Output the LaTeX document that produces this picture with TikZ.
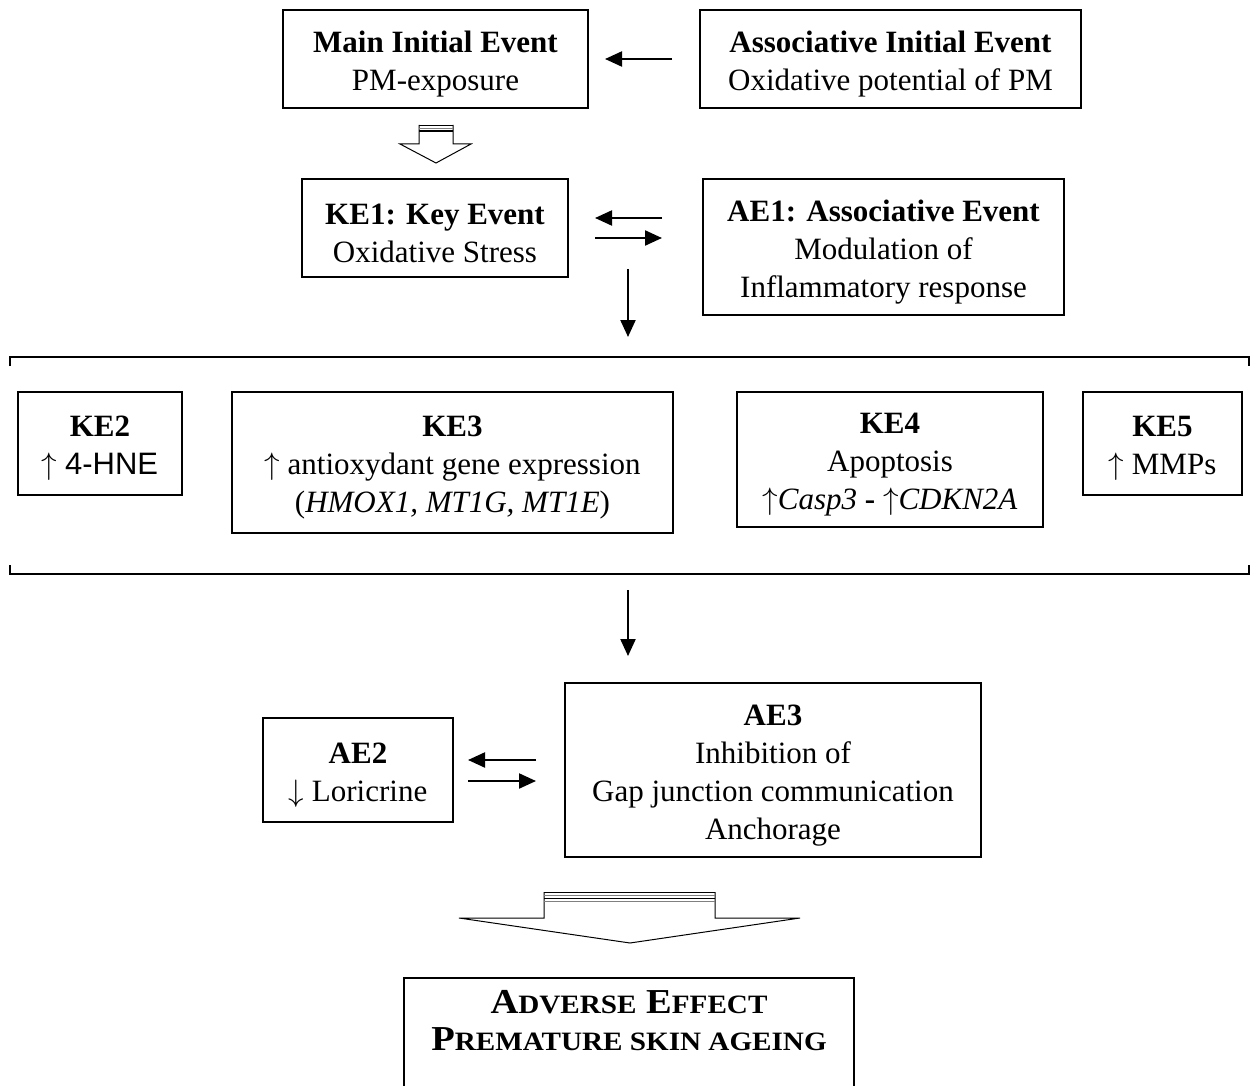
\RequirePackage{fix-cm}
\documentclass[tikz,border=0pt]{standalone}
\usepackage{fontspec}
\setmainfont{Liberation Serif}
\newfontfamily\arialf{Liberation Sans}
\newfontfamily\aefont[FakeStretch=1.1]{Liberation Serif}
\usetikzlibrary{arrows.meta}
\newcommand{\fsc}[1]{{\fontsize{26.5}{37}\selectfont #1}}
\newcommand{\up}{\ensuremath{\uparrow}}
\newcommand{\dn}{\ensuremath{\downarrow}}
\newcommand{\tp}{\rule{0pt}{31pt}}
\begin{document}
\begin{tikzpicture}[x=1pt,y=-1pt,
  box/.style={draw, line width=1.8pt, align=center, inner sep=0pt, font=\fontsize{31}{38}\selectfont},
  txt/.style={align=center, inner sep=0pt, font=\fontsize{31}{38}\selectfont},
  arr/.style={line width=2.2pt, -{Triangle[length=17pt,width=15pt]}},
  hollow/.style={line width=1pt, fill=white},
]
\useasboundingbox (0,0) rectangle (1256,1086);

% top row
\node[box, minimum width=305pt, minimum height=98pt] (mie) at (435.5,59) {\tp\textbf{Main Initial Event}\\PM-exposure};
\node[box, minimum width=381pt, minimum height=98pt] (aie) at (890.5,59) {\tp\textbf{Associative Initial Event}\\Oxidative potential of PM};
\coordinate (a1s) at (672,59); \coordinate (a1e) at (605,59);
\draw[arr] (a1s) -- (a1e);

% hollow arrow 1
\draw[hollow] (419,125) -- (419,144) -- (400,144) -- (436,163) -- (471,144) -- (453,144) -- (453,125);
\draw[line width=1.6pt] (419,125.5) -- (453,125.5);
\draw[line width=1pt, gray] (419,128.5) -- (453,128.5);
\draw[line width=1.2pt] (419,131) -- (453,131);

% second row
\node[box, minimum width=266pt, minimum height=98pt] (ke1) at (435,228) {\tp\textbf{KE1: Key Event}\\Oxidative Stress};
\node[box, minimum width=361pt, minimum height=136pt] (ae1) at (883.5,247) {\tp\textbf{AE1: Associative Event}\\Modulation of\\Inflammatory response};
\coordinate (b1s) at (662,218); \coordinate (b1e) at (595,218);
\coordinate (b2s) at (595,238); \coordinate (b2e) at (662,238);
\draw[arr] (b1s) -- (b1e);
\draw[arr] (b2s) -- (b2e);
\coordinate (c1s) at (628,269); \coordinate (c1e) at (628,337);
\draw[arr] (c1s) -- (c1e);

% bracket
\draw[line width=1.8pt] (10,366) -- (10,357) -- (1249,357) -- (1249,366);
\draw[line width=1.8pt] (10,565) -- (10,574) -- (1249,574) -- (1249,565);

% KE2..KE5
\node[box, minimum width=164pt, minimum height=103pt] (ke2) at (100,443.5) {\tp\textbf{KE2}\\\up\ {\arialf 4-HNE}};
\node[box, minimum width=441pt, minimum height=141pt] (ke3) at (452.5,462.5) {\tp\textbf{KE3}\\\up\ antioxydant gene expression\\(\textit{HMOX1, MT1G, MT1E})};
\node[box, minimum width=306pt, minimum height=135pt] (ke4) at (890,459.5) {\tp\textbf{KE4}\\Apoptosis\\\up\textit{Casp3} \textbf{-} \up\textit{CDKN2A}};
\node[box, minimum width=159pt, minimum height=103pt] (ke5) at (1162.5,443.5) {\tp\textbf{KE5}\\\up\ MMPs};

\coordinate (d1s) at (628,590); \coordinate (d1e) at (628,656);
\draw[arr] (d1s) -- (d1e);

% AE2, AE3
\node[box, minimum width=190pt, minimum height=104pt] (ae2) at (358,770) {\tp\textbf{AE2}\\\dn\ Loricrine};
\node[box, minimum width=416pt, minimum height=174pt] (ae3) at (773,770) {\tp\textbf{AE3}\\Inhibition of\\Gap junction communication\\Anchorage};
\coordinate (e1s) at (536,760); \coordinate (e1e) at (468,760);
\coordinate (e2s) at (468,781); \coordinate (e2e) at (536,781);
\draw[arr] (e1s) -- (e1e);
\draw[arr] (e2s) -- (e2e);

% big hollow arrow
\draw[hollow] (544,892) -- (544,918) -- (459,918) -- (630,943) -- (800,918) -- (715,918) -- (715,892);
\draw[line width=1.2pt] (544,892.5) -- (715,892.5);
\draw[line width=1pt, gray] (544,895.5) -- (715,895.5);
\draw[line width=1pt] (544,898.5) -- (715,898.5);
\draw[line width=1pt, gray] (544,901) -- (715,901);

% bottom box
\draw[line width=1.8pt] (404,1092) -- (404,978) -- (854,978) -- (854,1092);
\node[txt, font=\aefont\fontsize{35}{37}\selectfont\bfseries] (adv) at (629,1021) {A\fsc{DVERSE} E\fsc{FFECT}\\P\fsc{REMATURE SKIN AGEING}};
\end{tikzpicture}
\end{document}
